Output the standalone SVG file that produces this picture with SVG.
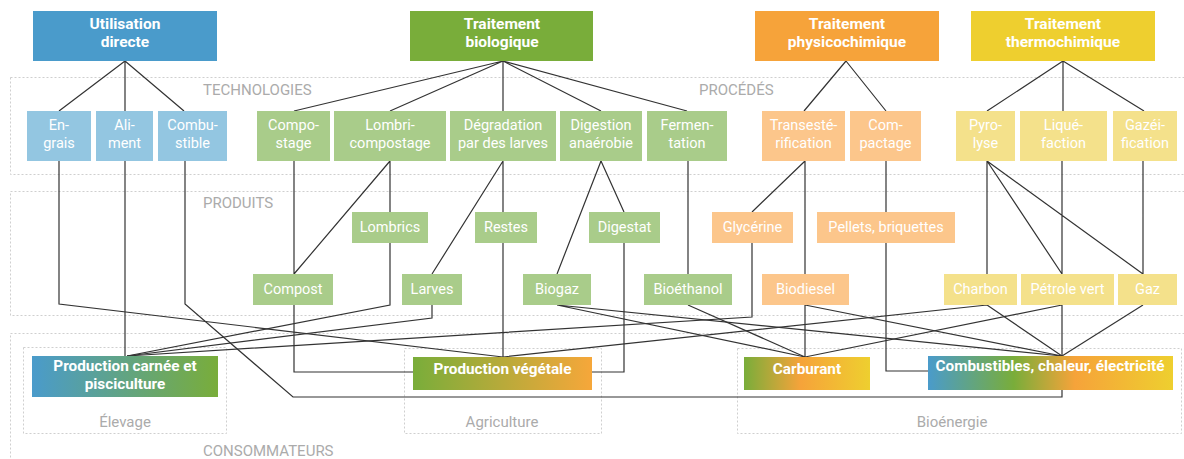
<svg xmlns="http://www.w3.org/2000/svg" width="1184" height="459" viewBox="0 0 1184 459">
<defs>
<style>
.sec{fill:none;stroke:#cfcfcf;stroke-width:1;stroke-dasharray:2,2}
.slab{font-family:Roboto,"Liberation Sans",sans-serif;font-size:15px;fill:#ababab}
.top text{font-family:Roboto,"Liberation Sans",sans-serif;font-size:15.5px;font-weight:bold;fill:#fff;text-anchor:middle}
.n text{font-family:Roboto,"Liberation Sans",sans-serif;font-size:14.5px;fill:#fff;text-anchor:middle}
.c text{font-family:Roboto,"Liberation Sans",sans-serif;font-size:15.3px;font-weight:bold;fill:#fff;text-anchor:middle}
.lb{fill:#93c6e1}.lg{fill:#a9cc8a}.lo{fill:#fcc68b}.ly{fill:#f4e18b}
#links path{fill:none;stroke:#333;stroke-width:1.2}
</style>
<linearGradient id="gCar" x1="0" x2="1" y1="0" y2="0"><stop offset="0" stop-color="#4a9bcb"/><stop offset="1" stop-color="#79ad3a"/></linearGradient>
<linearGradient id="gVeg" x1="0" x2="1" y1="0" y2="0"><stop offset="0" stop-color="#79ad3a"/><stop offset="1" stop-color="#f6a73a"/></linearGradient>
<linearGradient id="gFuel" x1="0" x2="1" y1="0" y2="0"><stop offset="0" stop-color="#79ad3a"/><stop offset="0.45" stop-color="#f6a33a"/><stop offset="1" stop-color="#eecf2f"/></linearGradient>
<linearGradient id="gEn" x1="0" x2="1" y1="0" y2="0"><stop offset="0" stop-color="#4a9bcb"/><stop offset="0.35" stop-color="#79ad3a"/><stop offset="0.6" stop-color="#f6a33a"/><stop offset="1" stop-color="#eecf2f"/></linearGradient>
</defs>
<rect width="1184" height="459" fill="#fff"/>
<g id="sections">
<rect class="sec" x="10.5" y="77.5" width="1180" height="97"/>
<rect class="sec" x="10.5" y="191.5" width="1180" height="124"/>
<rect class="sec" x="10.5" y="333.5" width="1180" height="140"/>
<rect class="sec" x="23.5" y="347.5" width="203" height="86"/>
<rect class="sec" x="404.5" y="348.5" width="197" height="85"/>
<rect class="sec" x="737.5" y="348.5" width="444" height="85"/>
<text class="slab" x="203" y="95">TECHNOLOGIES</text>
<text class="slab" x="699" y="95">PROCÉDÉS</text>
<text class="slab" x="203" y="208">PRODUITS</text>
<text class="slab" x="203" y="456">CONSOMMATEURS</text>
<text class="slab" x="125" y="427" text-anchor="middle">Élevage</text>
<text class="slab" x="502" y="427" text-anchor="middle">Agriculture</text>
<text class="slab" x="952" y="427" text-anchor="middle">Bioénergie</text>
</g>
<g id="links">
<path d="M125 61L59 111M125 61V111M125 61L184 111"/>
<path d="M503 61L294 111M503 61L390 111M503 61V111M503 61L601 111M503 61L687 111"/>
<path d="M846 61L804 111M846 61L886 111"/>
<path d="M1063 61L987 111M1063 61V111M1063 61L1144 111"/>
<path d="M294 161V274M390 161L294 274M390 161V212M503 161L432 274M503 161V212M601 161L557 274M601 161L624 212M688 161V274"/>
<path d="M805 161L752 212M805 161V274M886 161V212M987 161V274M987 161L1062 274M987 161L1143 274M1062 161V274M1143 161V274"/>
<path d="M59 161V304L503 357"/>
<path d="M125 161V356"/>
<path d="M185 161V304L293 397H1062V390"/>
<path d="M294 305V372H413"/>
<path d="M390 243V305L127 356"/>
<path d="M432 305V318L127 356"/>
<path d="M503 243V357"/>
<path d="M624 243V372H592"/>
<path d="M752 243V317L127 356"/>
<path d="M557 305L805 357M557 305L1062 356"/>
<path d="M688 305L805 357"/>
<path d="M805 305V357M805 305L1062 356"/>
<path d="M886 243V371H928"/>
<path d="M987 305L503 357M987 305L1062 356"/>
<path d="M1062 305V356M1062 305L805 357"/>
<path d="M1143 305L1062 356"/>
</g>
<g id="utilisation" class="top"><rect x="33" y="11" width="184" height="50" fill="#4a9bcb"/><text x="125" y="29">Utilisation</text><text x="125" y="47">directe</text></g>
<g id="biologique" class="top"><rect x="410" y="11" width="183" height="50" fill="#79ad3a"/><text x="502" y="29">Traitement</text><text x="502" y="47">biologique</text></g>
<g id="physicochimique" class="top"><rect x="755" y="11" width="184" height="50" fill="#f6a33a"/><text x="847" y="29">Traitement</text><text x="847" y="47">physicochimique</text></g>
<g id="thermochimique" class="top"><rect x="971" y="11" width="184" height="50" fill="#eecf2f"/><text x="1063" y="29">Traitement</text><text x="1063" y="47">thermochimique</text></g>
<g id="engrais" class="n"><rect class="lb" x="27" y="111" width="64" height="50"/><text x="59" y="130">En-</text><text x="59" y="148">grais</text></g>
<g id="aliment" class="n"><rect class="lb" x="96" y="111" width="57" height="50"/><text x="124.5" y="130">Ali-</text><text x="124.5" y="148">ment</text></g>
<g id="combustible" class="n"><rect class="lb" x="158" y="111" width="69" height="50"/><text x="192.5" y="130">Combu-</text><text x="192.5" y="148">stible</text></g>
<g id="compostage" class="n"><rect class="lg" x="257" y="111" width="73" height="50"/><text x="293.5" y="130">Compo-</text><text x="293.5" y="148">stage</text></g>
<g id="lombricompostage" class="n"><rect class="lg" x="334" y="111" width="112" height="50"/><text x="390" y="130">Lombri-</text><text x="390" y="148">compostage</text></g>
<g id="degradation" class="n"><rect class="lg" x="450" y="111" width="106" height="50"/><text x="503" y="130">Dégradation</text><text x="503" y="148">par des larves</text></g>
<g id="digestion" class="n"><rect class="lg" x="560" y="111" width="82" height="50"/><text x="601" y="130">Digestion</text><text x="601" y="148">anaérobie</text></g>
<g id="fermentation" class="n"><rect class="lg" x="647" y="111" width="80" height="50"/><text x="687" y="130">Fermen-</text><text x="687" y="148">tation</text></g>
<g id="transesterification" class="n"><rect class="lo" x="762" y="111" width="83" height="50"/><text x="803.5" y="130">Transesté-</text><text x="803.5" y="148">rification</text></g>
<g id="compactage" class="n"><rect class="lo" x="850" y="111" width="71" height="50"/><text x="885.5" y="130">Com-</text><text x="885.5" y="148">pactage</text></g>
<g id="pyrolyse" class="n"><rect class="ly" x="956" y="111" width="59" height="50"/><text x="985.5" y="130">Pyro-</text><text x="985.5" y="148">lyse</text></g>
<g id="liquefaction" class="n"><rect class="ly" x="1020" y="111" width="87" height="50"/><text x="1063.5" y="130">Liqué-</text><text x="1063.5" y="148">faction</text></g>
<g id="gazeification" class="n"><rect class="ly" x="1113" y="111" width="64" height="50"/><text x="1145" y="130">Gazéi-</text><text x="1145" y="148">fication</text></g>
<g id="lombrics" class="n"><rect class="lg" x="352" y="212" width="76" height="31"/><text x="390" y="232">Lombrics</text></g>
<g id="restes" class="n"><rect class="lg" x="475" y="212" width="62" height="31"/><text x="506" y="232">Restes</text></g>
<g id="digestat" class="n"><rect class="lg" x="589" y="212" width="71" height="31"/><text x="624.5" y="232">Digestat</text></g>
<g id="glycerine" class="n"><rect class="lo" x="712" y="212" width="81" height="31"/><text x="752.5" y="232">Glycérine</text></g>
<g id="pellets" class="n"><rect class="lo" x="817" y="212" width="138" height="31"/><text x="886" y="232">Pellets, briquettes</text></g>
<g id="compost" class="n"><rect class="lg" x="253" y="274" width="80" height="31"/><text x="293" y="294">Compost</text></g>
<g id="larves" class="n"><rect class="lg" x="402" y="274" width="60" height="31"/><text x="432" y="294">Larves</text></g>
<g id="biogaz" class="n"><rect class="lg" x="523" y="274" width="68" height="31"/><text x="557" y="294">Biogaz</text></g>
<g id="bioethanol" class="n"><rect class="lg" x="644" y="274" width="88" height="31"/><text x="688" y="294">Bioéthanol</text></g>
<g id="biodiesel" class="n"><rect class="lo" x="762" y="274" width="87" height="31"/><text x="805.5" y="294">Biodiesel</text></g>
<g id="charbon" class="n"><rect class="ly" x="944" y="274" width="73" height="31"/><text x="980.5" y="294">Charbon</text></g>
<g id="petrole" class="n"><rect class="ly" x="1021" y="274" width="93" height="31"/><text x="1067.5" y="294">Pétrole vert</text></g>
<g id="gaz" class="n"><rect class="ly" x="1118" y="274" width="59" height="31"/><text x="1147.5" y="294">Gaz</text></g>
<g id="carnee" class="c"><rect x="32" y="356" width="186" height="41" fill="url(#gCar)"/><text x="125" y="371">Production carnée et</text><text x="125" y="389">pisciculture</text></g>
<g id="vegetale" class="c"><rect x="413" y="357" width="179" height="33" fill="url(#gVeg)"/><text x="502.5" y="374">Production végétale</text></g>
<g id="carburant" class="c"><rect x="744" y="357" width="126" height="33" fill="url(#gFuel)"/><text x="807" y="374">Carburant</text></g>
<g id="combustibles" class="c"><rect x="928" y="356" width="245" height="34" fill="url(#gEn)"/><text x="1050" y="371">Combustibles, chaleur, électricité</text></g>
</svg>
